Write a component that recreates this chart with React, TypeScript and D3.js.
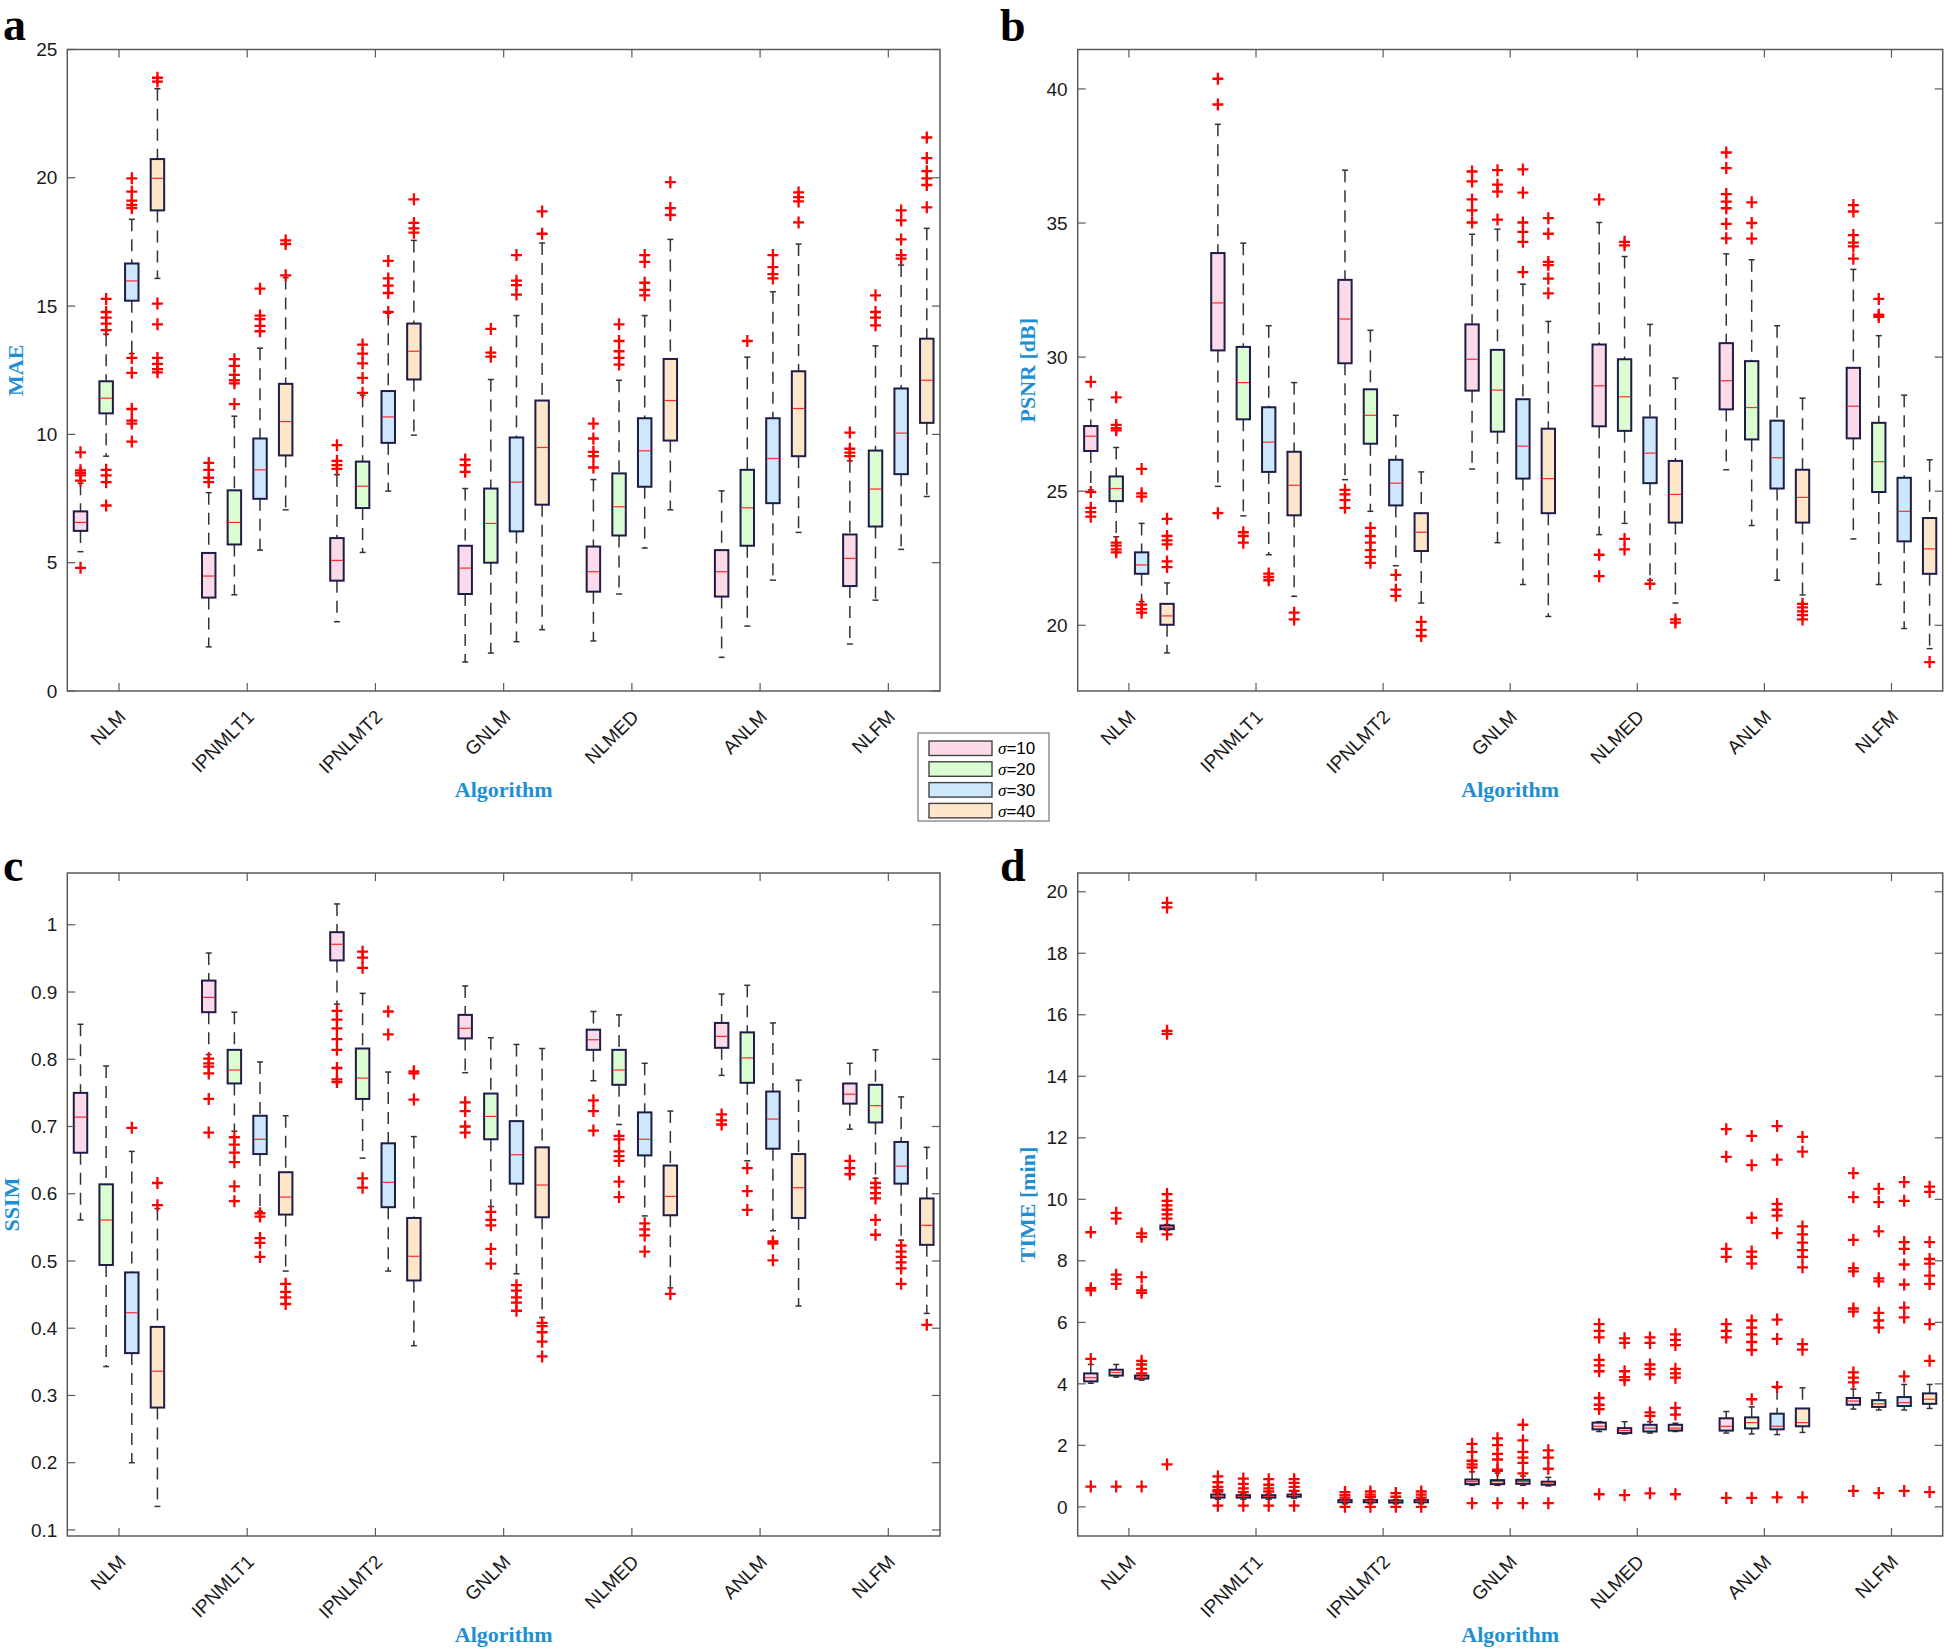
import * as d3 from "d3";

// categories
const algorithms = ["NLM", "IPNMLT1", "IPNLMT2", "GNLM", "NLMED", "ANLM", "NLFM"];
const sigmas = ["10", "20", "30", "40"];
const sigmaColors = ["#fcdaea", "#dcfcd2", "#cde7fb", "#fee6ca"];

// box stats per algorithm, per sigma: [whiskerLow, q1, median, q3, whiskerHigh]
const maeBoxes = [
  [[5.43, 6.24, 6.57, 7.0, 8.1], [9.15, 10.82, 11.41, 12.07, 13.9], [13.15, 15.21, 15.98, 16.66, 18.38], [16.08, 18.73, 19.98, 20.73, 23.47]],
  [[1.72, 3.64, 4.48, 5.38, 7.73], [3.75, 5.71, 6.57, 7.82, 10.71], [5.49, 7.49, 8.62, 9.84, 13.36], [7.06, 9.18, 10.5, 11.97, 16.11]],
  [[2.7, 4.3, 5.09, 5.96, 8.43], [5.4, 7.13, 7.98, 8.94, 11.53], [7.79, 9.67, 10.68, 11.69, 14.72], [9.97, 12.14, 13.24, 14.32, 17.56]],
  [[1.13, 3.78, 4.79, 5.66, 7.89], [1.48, 5.0, 6.53, 7.89, 12.14], [1.92, 6.22, 8.14, 9.88, 14.63], [2.39, 7.26, 9.49, 11.32, 17.46]],
  [[1.95, 3.87, 4.65, 5.63, 8.24], [3.78, 6.06, 7.18, 8.48, 12.11], [5.57, 7.96, 9.36, 10.63, 14.63], [7.06, 9.76, 11.32, 12.94, 17.6]],
  [[1.31, 3.68, 4.65, 5.49, 7.8], [2.53, 5.66, 7.14, 8.62, 13.01], [4.32, 7.32, 9.06, 10.63, 15.56], [6.18, 9.15, 11.01, 12.46, 17.42]],
  [[1.83, 4.09, 5.17, 6.1, 8.97], [3.54, 6.41, 7.87, 9.37, 13.45], [5.52, 8.45, 10.05, 11.79, 16.6], [7.58, 10.45, 12.11, 13.73, 18.03]],
];
const maeOutliers = [
  [[9.3, 8.6, 8.5, 8.4, 8.2, 4.8], [15.28, 14.77, 14.55, 14.32, 14.06, 8.62, 8.4, 8.14, 7.23], [19.98, 19.46, 19.11, 18.94, 18.82, 12.98, 12.4, 10.99, 10.54, 10.42, 9.72], [23.9, 23.75, 15.1, 14.29, 12.98, 12.75, 12.54, 12.42]],
  [[8.89, 8.62, 8.31, 8.14], [12.93, 12.67, 12.32, 12.11, 11.99, 11.18], [15.68, 14.63, 14.49, 14.23, 14.02], [17.56, 17.42, 16.2]],
  [[9.58, 8.97, 8.8, 8.66], [13.5, 13.15, 12.77, 12.2, 11.62], [16.76, 16.08, 15.8, 15.51, 14.77], [19.16, 18.24, 18.03, 17.86]],
  [[9.02, 8.8, 8.54], [14.11, 13.19, 13.03], [16.99, 15.99, 15.82, 15.45], [18.69, 17.82]],
  [[10.42, 9.84, 9.32, 9.15, 8.71], [14.29, 13.64, 13.24, 12.98, 12.72], [16.99, 16.72, 15.91, 15.63, 15.42], [19.83, 18.82, 18.55]],
  [[], [13.64], [16.99, 16.52, 16.25, 16.08], [19.43, 19.25, 19.08, 18.26]],
  [[10.07, 9.44, 9.29, 9.15], [15.42, 14.77, 14.55, 14.25], [18.73, 18.34, 17.6, 16.99, 16.85], [21.57, 20.77, 20.26, 19.98, 19.72, 18.85]],
];

const psnrBoxes = [
  [[25.05, 26.5, 27.05, 27.43, 28.42], [23.3, 24.63, 25.1, 25.55, 26.63], [20.88, 21.92, 22.25, 22.72, 23.8], [18.97, 20.02, 20.35, 20.8, 21.58]],
  [[25.18, 30.25, 32.02, 33.88, 38.68], [24.08, 27.68, 29.05, 30.38, 34.25], [22.63, 25.72, 26.83, 28.13, 31.17], [21.08, 24.1, 25.22, 26.47, 29.05]],
  [[25.43, 29.77, 31.42, 32.88, 36.97], [24.25, 26.77, 27.83, 28.8, 31.0], [22.22, 24.47, 25.3, 26.17, 27.83], [20.83, 22.77, 23.47, 24.18, 25.72]],
  [[25.83, 28.75, 29.92, 31.22, 34.58], [23.08, 27.22, 28.77, 30.27, 34.77], [21.52, 25.47, 26.68, 28.43, 32.72], [20.33, 24.18, 25.47, 27.33, 31.33]],
  [[23.38, 27.42, 28.93, 30.47, 35.02], [23.8, 27.25, 28.52, 29.92, 33.75], [21.68, 25.3, 26.42, 27.75, 31.22], [20.83, 23.83, 24.88, 26.13, 29.22]],
  [[25.8, 28.05, 29.12, 30.52, 33.85], [23.72, 26.93, 28.12, 29.85, 33.63], [21.68, 25.1, 26.25, 27.63, 31.17], [21.13, 23.83, 24.77, 25.8, 28.47]],
  [[23.22, 26.97, 28.17, 29.6, 33.27], [21.52, 24.97, 26.1, 27.55, 30.8], [19.88, 23.13, 24.25, 25.5, 28.58], [19.13, 21.92, 22.85, 24.0, 26.17]],
];
const psnrOutliers = [
  [[29.08, 24.97, 24.38, 24.22, 24.05], [28.5, 27.47, 27.35, 27.27, 23.08, 22.97, 22.83, 22.72], [25.83, 24.92, 24.8, 20.77, 20.6, 20.47], [23.97, 23.33, 23.17, 23.02, 22.38, 22.17]],
  [[40.38, 39.42, 24.18], [23.47, 23.33, 23.08], [21.93, 21.8, 21.68], [20.47, 20.22]],
  [[25.05, 24.88, 24.67, 24.38], [23.63, 23.33, 23.08, 22.8, 22.55, 22.33], [21.88, 21.33, 21.1], [20.13, 19.83, 19.6]],
  [[36.92, 36.55, 35.88, 35.47, 35.02], [36.97, 36.43, 36.17, 35.13], [37.0, 36.13, 35.02, 34.67, 34.3, 33.17], [35.18, 34.6, 33.55, 33.43, 32.93, 32.38]],
  [[35.88, 22.63, 21.83], [34.3, 34.17, 23.22, 22.83], [21.55], [20.22, 20.1]],
  [[37.63, 37.05, 36.08, 35.8, 35.55, 34.97, 34.43], [35.77, 35.0, 34.42], [], [20.8, 20.67, 20.52, 20.38, 20.22]],
  [[35.67, 35.43, 34.55, 34.27, 34.13, 33.67], [32.17, 31.58, 31.5], [], [18.63]],
];

const ssimBoxes = [
  [[0.561, 0.661, 0.714, 0.75, 0.852], [0.343, 0.494, 0.561, 0.614, 0.79], [0.2, 0.363, 0.423, 0.483, 0.663], [0.135, 0.282, 0.336, 0.402, 0.578]],
  [[0.807, 0.87, 0.892, 0.917, 0.958], [0.693, 0.764, 0.784, 0.814, 0.87], [0.574, 0.659, 0.681, 0.716, 0.796], [0.485, 0.569, 0.595, 0.632, 0.716]],
  [[0.882, 0.947, 0.971, 0.989, 1.031], [0.653, 0.741, 0.772, 0.816, 0.898], [0.485, 0.58, 0.617, 0.675, 0.781], [0.374, 0.471, 0.507, 0.564, 0.685]],
  [[0.78, 0.831, 0.846, 0.866, 0.909], [0.581, 0.681, 0.715, 0.749, 0.832], [0.481, 0.615, 0.658, 0.708, 0.822], [0.416, 0.565, 0.613, 0.669, 0.816]],
  [[0.768, 0.814, 0.829, 0.844, 0.871], [0.703, 0.762, 0.784, 0.814, 0.866], [0.567, 0.657, 0.681, 0.721, 0.794], [0.46, 0.568, 0.596, 0.642, 0.723]],
  [[0.776, 0.817, 0.834, 0.854, 0.897], [0.649, 0.765, 0.802, 0.84, 0.91], [0.545, 0.667, 0.711, 0.752, 0.854], [0.433, 0.564, 0.609, 0.659, 0.769]],
  [[0.696, 0.734, 0.748, 0.764, 0.794], [0.623, 0.706, 0.731, 0.762, 0.814], [0.531, 0.615, 0.641, 0.677, 0.744], [0.422, 0.524, 0.553, 0.593, 0.669]],
];
const ssimOutliers = [
  [[], [], [0.698], [0.616, 0.583]],
  [[0.801, 0.794, 0.789, 0.779, 0.741, 0.691], [0.684, 0.673, 0.661, 0.647, 0.611, 0.589], [0.571, 0.566, 0.534, 0.527, 0.506], [0.466, 0.454, 0.446, 0.436]],
  [[0.872, 0.859, 0.846, 0.83, 0.814, 0.787, 0.77, 0.766], [0.96, 0.951, 0.936, 0.623, 0.609], [0.871, 0.837], [0.782, 0.779, 0.74]],
  [[0.736, 0.723, 0.7, 0.691], [0.573, 0.561, 0.553, 0.518, 0.496], [0.464, 0.456, 0.446, 0.438, 0.426], [0.408, 0.403, 0.394, 0.38, 0.358]],
  [[0.739, 0.723, 0.694], [0.686, 0.681, 0.663, 0.656, 0.649, 0.618, 0.595], [0.556, 0.547, 0.538, 0.514], [0.451]],
  [[0.718, 0.709, 0.703], [0.638, 0.604, 0.576], [0.529, 0.526, 0.501], []],
  [[0.649, 0.638, 0.629], [0.616, 0.609, 0.601, 0.593, 0.561, 0.539], [0.523, 0.514, 0.506, 0.498, 0.489, 0.466], [0.405]],
];

const timeBoxes = [
  [[4.02, 4.08, 4.2, 4.34, 4.63], [4.22, 4.27, 4.37, 4.46, 4.63], [4.12, 4.17, 4.22, 4.27, 4.27], [9.0, 9.03, 9.09, 9.15, 9.18]],
  [[0.25, 0.3, 0.35, 0.4, 0.45], [0.25, 0.3, 0.34, 0.38, 0.42], [0.25, 0.3, 0.34, 0.38, 0.42], [0.28, 0.33, 0.37, 0.4, 0.45]],
  [[0.1, 0.15, 0.19, 0.22, 0.25], [0.1, 0.15, 0.19, 0.22, 0.25], [0.1, 0.14, 0.18, 0.21, 0.24], [0.1, 0.15, 0.19, 0.22, 0.25]],
  [[0.7, 0.74, 0.82, 0.89, 1.14], [0.7, 0.74, 0.82, 0.87, 1.1], [0.7, 0.75, 0.82, 0.88, 1.0], [0.68, 0.72, 0.78, 0.82, 0.96]],
  [[2.45, 2.52, 2.62, 2.74, 2.77], [2.37, 2.4, 2.48, 2.56, 2.77], [2.4, 2.45, 2.56, 2.67, 2.77], [2.45, 2.48, 2.56, 2.67, 2.72]],
  [[2.4, 2.48, 2.62, 2.88, 3.1], [2.37, 2.55, 2.74, 2.91, 3.25], [2.35, 2.52, 2.62, 3.03, 3.87], [2.42, 2.62, 2.74, 3.2, 3.87]],
  [[3.18, 3.32, 3.44, 3.54, 3.83], [3.15, 3.25, 3.35, 3.47, 3.71], [3.15, 3.28, 3.39, 3.57, 3.98], [3.2, 3.35, 3.5, 3.69, 3.98]],
];
const timeOutliers = [
  [[8.93, 7.11, 7.04, 4.81, 0.66], [9.56, 9.37, 7.55, 7.4, 7.25, 0.66], [8.89, 8.78, 7.47, 7.04, 6.96, 4.75, 4.63, 4.49, 4.34, 0.66], [19.64, 19.49, 15.48, 15.38, 10.17, 9.95, 9.8, 9.66, 9.51, 9.37, 8.86, 1.38]],
  [[0.99, 0.8, 0.65, 0.55, 0.5, 0.04], [0.92, 0.75, 0.6, 0.48, 0.04], [0.9, 0.72, 0.6, 0.5, 0.04], [0.9, 0.78, 0.65, 0.52, 0.04]],
  [[0.48, 0.38, 0.3, 0.0], [0.5, 0.4, 0.32, 0.0], [0.45, 0.33, 0.0], [0.5, 0.4, 0.3, 0.0]],
  [[2.05, 1.79, 1.5, 1.38, 1.28, 0.12], [2.23, 2.01, 1.72, 1.54, 1.21, 1.17, 0.12], [2.67, 2.16, 1.79, 1.6, 1.43, 1.09, 0.12], [1.84, 1.6, 1.24, 0.12]],
  [[5.94, 5.72, 5.51, 4.78, 4.6, 4.41, 3.54, 3.32, 3.18, 0.41], [5.48, 5.33, 4.41, 4.22, 4.12, 0.38], [5.51, 5.33, 4.63, 4.49, 4.31, 3.07, 2.96, 0.44], [5.61, 5.43, 5.26, 4.49, 4.34, 4.2, 3.22, 3.0, 0.41]],
  [[12.28, 11.38, 8.39, 8.13, 5.94, 5.72, 5.51, 0.29], [12.06, 11.11, 9.4, 8.3, 8.13, 7.91, 6.06, 5.83, 5.61, 5.36, 5.1, 3.5, 0.29], [12.38, 11.29, 9.85, 9.66, 9.47, 8.9, 6.09, 5.46, 3.9, 0.31], [12.03, 11.55, 9.12, 8.86, 8.59, 8.35, 8.13, 7.79, 5.29, 5.11, 0.31]],
  [[10.85, 10.07, 8.68, 7.76, 7.66, 6.45, 6.35, 4.37, 4.2, 4.05, 0.52], [10.34, 9.91, 8.96, 7.43, 7.33, 6.31, 6.06, 5.83, 0.45], [10.56, 9.95, 8.61, 8.39, 7.88, 7.23, 6.48, 6.16, 4.24, 0.52], [10.41, 10.24, 8.61, 8.06, 7.91, 7.52, 7.25, 5.94, 4.75, 0.48]],
];

// tick values
const maeTicks = [0, 5, 10, 15, 20, 25];
const psnrTicks = [20, 25, 30, 35, 40];
const ssimTicks = [0.1, 0.2, 0.3, 0.4, 0.5, 0.6, 0.7, 0.8, 0.9, 1];
const timeTicks = [0, 2, 4, 6, 8, 10, 12, 14, 16, 18, 20];

const offsets = [-0.3, -0.1, 0.1, 0.3];
const BLUE = "#1e8fd2";
const SANS = "'Liberation Sans', Arial, Helvetica, sans-serif";
const SERIF = "'Liberation Serif', 'Times New Roman', serif";

type PanelProps = {
  left: number;
  right: number;
  top: number;
  bottom: number;
  yDomain: [number, number];
  yTicks: number[];
  fmt: (v: number) => string;
  boxes: number[][][];
  outliers: number[][][];
  yLabel: string;
  yLabelX: number;
  letter: string;
  letterX: number;
  letterY: number;
};

function Panel(p: PanelProps) {
  const x = d3.scaleLinear().domain([0.597, 7.403]).range([p.left, p.right]);
  const y = d3.scaleLinear().domain(p.yDomain).range([p.bottom, p.top]);
  const halfW = x(1.0525) - x(1);
  const tickLen = 8;
  const cx = (p.left + p.right) / 2;
  const cy = (p.top + p.bottom) / 2;

  return (
    <g>
      <rect x={p.left} y={p.top} width={p.right - p.left} height={p.bottom - p.top} fill="#fff" />
      {/* whiskers */}
      {p.boxes.map((grp, gi) =>
        grp.map((b, si) => {
          const bx = x(gi + 1 + offsets[si]);
          return (
            <g key={`w${gi}-${si}`} stroke="#333" strokeWidth={1.5}>
              <line x1={bx} x2={bx} y1={y(b[4])} y2={y(b[3])} strokeDasharray="12,8" />
              <line x1={bx} x2={bx} y1={y(b[1])} y2={y(b[0])} strokeDasharray="12,8" />
              <line x1={bx - 3} x2={bx + 3} y1={y(b[4])} y2={y(b[4])} />
              <line x1={bx - 3} x2={bx + 3} y1={y(b[0])} y2={y(b[0])} />
            </g>
          );
        })
      )}
      {/* boxes */}
      {p.boxes.map((grp, gi) =>
        grp.map((b, si) => {
          const bx = x(gi + 1 + offsets[si]);
          return (
            <g key={`b${gi}-${si}`}>
              <rect
                x={bx - halfW}
                y={y(b[3])}
                width={halfW * 2}
                height={Math.max(0.5, y(b[1]) - y(b[3]))}
                fill={sigmaColors[si]}
                stroke="#1d1d48"
                strokeWidth={2}
              />
              <line x1={bx - halfW + 1} x2={bx + halfW - 1} y1={y(b[2])} y2={y(b[2])} stroke="#ff2a2a" strokeWidth={1.2} />
            </g>
          );
        })
      )}
      {/* outliers */}
      {p.outliers.map((grp, gi) =>
        grp.map((os, si) => {
          const bx = x(gi + 1 + offsets[si]);
          return os.map((v, k) => (
            <path
              key={`o${gi}-${si}-${k}`}
              d={`M${bx - 5.5},${y(v)}H${bx + 5.5}M${bx},${y(v) - 6}V${y(v) + 6}`}
              stroke="#ff0000"
              strokeWidth={2.3}
              fill="none"
            />
          ));
        })
      )}
      {/* frame */}
      <rect x={p.left} y={p.top} width={p.right - p.left} height={p.bottom - p.top} fill="none" stroke="#5a5a5a" strokeWidth={1.5} />
      {/* y ticks */}
      {p.yTicks.map((t) => (
        <g key={`yt${t}`}>
          <line x1={p.left} x2={p.left + tickLen} y1={y(t)} y2={y(t)} stroke="#5a5a5a" strokeWidth={1.2} />
          <line x1={p.right} x2={p.right - tickLen} y1={y(t)} y2={y(t)} stroke="#5a5a5a" strokeWidth={1.2} />
          <text x={p.left - 10} y={y(t)} dy="0.35em" textAnchor="end" fontFamily={SANS} fontSize={19} fill="#1a1a1a">
            {p.fmt(t)}
          </text>
        </g>
      ))}
      {/* x ticks */}
      {algorithms.map((a, i) => (
        <g key={a}>
          <line x1={x(i + 1)} x2={x(i + 1)} y1={p.bottom} y2={p.bottom - tickLen} stroke="#5a5a5a" strokeWidth={1.2} />
          <line x1={x(i + 1)} x2={x(i + 1)} y1={p.top} y2={p.top + tickLen} stroke="#5a5a5a" strokeWidth={1.2} />
          <text
            transform={`translate(${x(i + 1) + 8},${p.bottom + 27}) rotate(-45)`}
            textAnchor="end"
            fontFamily={SANS}
            fontSize={19}
            fill="#1a1a1a"
          >
            {a}
          </text>
        </g>
      ))}
      <text x={cx} y={p.bottom + 106} textAnchor="middle" fontFamily={SERIF} fontWeight="bold" fontSize={22} fill={BLUE}>
        Algorithm
      </text>
      <text
        transform={`translate(${p.yLabelX},${cy}) rotate(-90)`}
        dy="0.33em"
        textAnchor="middle"
        fontFamily={SERIF}
        fontWeight="bold"
        fontSize={22}
        fill={BLUE}
      >
        {p.yLabel}
      </text>
      <text x={p.letterX} y={p.letterY} fontFamily={SERIF} fontWeight="bold" fontSize={46} fill="#000">
        {p.letter}
      </text>
    </g>
  );
}

function Legend() {
  const lx = 918;
  const ly = 733;
  return (
    <g>
      <rect x={lx} y={ly} width={131} height={88} fill="#fff" stroke="#777" strokeWidth={1.2} />
      {sigmas.map((s, i) => {
        const ey = ly + 15 + i * 20.8;
        return (
          <g key={s}>
            <rect x={lx + 11} y={ey - 7} width={63} height={14.5} fill={sigmaColors[i]} stroke="#444" strokeWidth={1.4} />
            <text x={lx + 80} y={ey} dy="0.36em" fontFamily={SANS} fontSize={17} fill="#000">
              <tspan fontFamily={SERIF} fontStyle="italic">σ</tspan>={s}
            </text>
          </g>
        );
      })}
    </g>
  );
}

export default function App() {
  const fmtInt = (v: number) => String(v);
  const fmtSsim = (v: number) => (v === 1 ? "1" : v.toFixed(1));
  return (
    <svg
      width={1946}
      height={1652}
      style={{ position: "absolute", left: 0, top: 0, background: "#fff" }}
    >
      <rect width={1946} height={1652} fill="#fff" />
      <Panel
        left={67.3} right={940} top={49.5} bottom={691}
        yDomain={[0, 25]} yTicks={maeTicks} fmt={fmtInt}
        boxes={maeBoxes} outliers={maeOutliers}
        yLabel="MAE" yLabelX={16}
        letter="a" letterX={3} letterY={40}
      />
      <Panel
        left={1077.7} right={1942.7} top={49.5} bottom={691}
        yDomain={[17.55, 41.47]} yTicks={psnrTicks} fmt={fmtInt}
        boxes={psnrBoxes} outliers={psnrOutliers}
        yLabel="PSNR [dB]" yLabelX={1028}
        letter="b" letterX={1000} letterY={41}
      />
      <Panel
        left={67.3} right={940} top={873} bottom={1536}
        yDomain={[0.091, 1.077]} yTicks={ssimTicks} fmt={fmtSsim}
        boxes={ssimBoxes} outliers={ssimOutliers}
        yLabel="SSIM" yLabelX={12}
        letter="c" letterX={3} letterY={881}
      />
      <Panel
        left={1077.7} right={1942.7} top={873} bottom={1536}
        yDomain={[-0.947, 20.61]} yTicks={timeTicks} fmt={fmtInt}
        boxes={timeBoxes} outliers={timeOutliers}
        yLabel="TIME [min]" yLabelX={1028}
        letter="d" letterX={1000} letterY={881}
      />
      <Legend />
    </svg>
  );
}
